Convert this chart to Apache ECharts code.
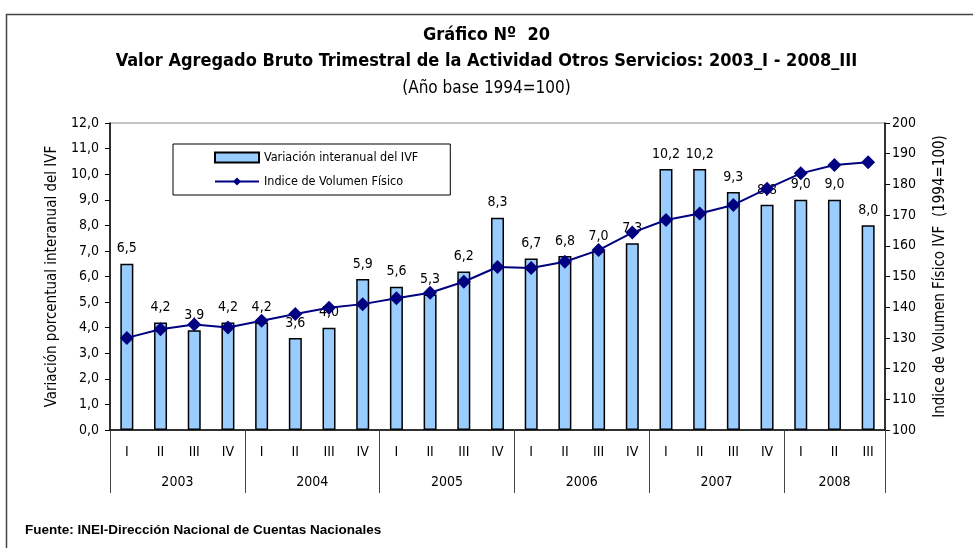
<!DOCTYPE html>
<html>
<head>
    <meta charset="utf-8">
    <title>Gráfico Nº 20</title>
    <script src="https://cdn.jsdelivr.net/npm/echarts@6/dist/echarts.min.js"></script>
    <style>
        body { margin: 0; background: #fff; }
    </style>
</head>
<body>
    <div id="main" style="width: 973px;height:548px;"></div>
    <script type="text/javascript">
        // datos
        var trimestres = ['I','II','III','IV','I','II','III','IV','I','II','III','IV',
                          'I','II','III','IV','I','II','III','IV','I','II','III'];
        var anios = ['2003', '2004', '2005', '2006', '2007', '2008'];
        var trimPorAnio = [4, 4, 4, 4, 4, 3];
        var variacion = [6.5, 4.2, 3.9, 4.2, 4.2, 3.6, 4.0, 5.9, 5.6, 5.3, 6.2, 8.3,
                         6.7, 6.8, 7.0, 7.3, 10.2, 10.2, 9.3, 8.8, 9.0, 9.0, 8.0];
        var ivf = [130.0, 132.8, 134.4, 133.4, 135.6, 137.8, 139.8, 141.0, 142.9, 144.7, 148.3, 153.1,
                   152.8, 154.8, 158.6, 164.3, 168.4, 170.5, 173.3, 178.6, 183.6, 186.3, 187.2];

        var FONT = "'Liberation Sans Narrow', 'DejaVu Sans Condensed', sans-serif";

        // eje de años: categorias en medios trimestres, para poner el texto en el centro de cada año
        var mediaCat = [];
        var cortes = {}, centros = {};
        var pos = 0;
        for (var i = 0; i <= trimestres.length * 2; i++) mediaCat.push('');
        cortes[0] = true;
        for (var a = 0; a < anios.length; a++) {
            centros[pos + trimPorAnio[a]] = true;
            mediaCat[pos + trimPorAnio[a]] = anios[a];
            pos += trimPorAnio[a] * 2;
            cortes[pos] = true;
        }

        function coma(v) { return v.toFixed(1).replace('.', ','); }

        var myChart = echarts.init(document.getElementById('main'));

        var option = {
            animation: false,
            backgroundColor: '#fff',
            textStyle: { fontFamily: FONT, color: '#000' },
            title: [
                { text: 'Gráfico Nº  20', left: 'center', top: 21,
                  textStyle: { fontSize: 18, fontWeight: 'bold', fontFamily: FONT, color: '#000' } },
                { text: 'Valor Agregado Bruto Trimestral de la Actividad Otros Servicios: 2003_I - 2008_III', left: 'center', top: 47,
                  textStyle: { fontSize: 18, fontWeight: 'bold', fontFamily: FONT, color: '#000' } },
                { text: '(Año base 1994=100)', left: 'center', top: 75,
                  textStyle: { fontSize: 17, fontWeight: 'normal', fontFamily: FONT, color: '#000' } },
                { text: 'Fuente: INEI-Dirección Nacional de Cuentas Nacionales', left: 20, top: 518,
                  textStyle: { fontSize: 13.5, fontWeight: 'bold', fontFamily: "'Liberation Sans', Arial, sans-serif", color: '#000' } }
            ],
            graphic: [
                { type: 'rect', left: 4, top: 12, shape: { width: 1000, height: 600 },
                  style: { fill: 'none', stroke: '#444', lineWidth: 1.5 }, silent: true }
            ],
            legend: {
                orient: 'vertical',
                left: 173,
                top: 144,
                padding: [7, 32, 7, 41],
                itemWidth: 44,
                itemHeight: 10,
                itemGap: 11,
                backgroundColor: '#fff',
                borderColor: '#000',
                borderWidth: 1,
                textStyle: { fontSize: 12.5, fontFamily: FONT, color: '#000' },
                data: [
                    { name: 'Variación interanual del IVF', icon: 'rect' },
                    { name: 'Indice de Volumen Físico' }
                ]
            },
            grid: {
                left: 110, right: 88, top: 123, bottom: 118,
                show: true, borderColor: '#888', borderWidth: 1
            },
            xAxis: [
                {
                    type: 'category',
                    data: trimestres,
                    position: 'bottom',
                    axisLine: { lineStyle: { color: '#000', width: 1.5 } },
                    axisTick: { length: 33, lineStyle: { color: '#444' } },
                    axisLabel: { margin: 15, fontSize: 14, color: '#000', interval: 0 },
                    splitLine: { show: false }
                },
                {
                    type: 'category',
                    data: mediaCat,
                    boundaryGap: false,
                    position: 'bottom',
                    axisLine: { show: false },
                    axisTick: { length: 63, lineStyle: { color: '#444' },
                                interval: function (idx) { return !!cortes[idx]; } },
                    axisLabel: { margin: 45, fontSize: 14, color: '#000',
                                 interval: function (idx) { return !!centros[idx]; } },
                    splitLine: { show: false }
                }
            ],
            yAxis: [
                {
                    type: 'value',
                    min: 0, max: 12, interval: 1,
                    name: 'Variación porcentual interanual del IVF',
                    nameLocation: 'middle',
                    nameGap: 42,
                    nameTextStyle: { fontSize: 15, color: '#000' },
                    axisLine: { show: true, lineStyle: { color: '#000', width: 1.5 } },
                    axisTick: { show: true, length: 5, lineStyle: { color: '#000' } },
                    axisLabel: { fontSize: 14, color: '#000', margin: 11, formatter: coma },
                    splitLine: { show: false }
                },
                {
                    type: 'value',
                    min: 100, max: 200, interval: 10,
                    name: 'Indice de Volumen Físico IVF  (1994=100)',
                    nameLocation: 'middle',
                    nameGap: 48,
                    nameTextStyle: { fontSize: 15, color: '#000' },
                    axisLine: { show: true, lineStyle: { color: '#000', width: 1.5 } },
                    axisTick: { show: true, length: 5, lineStyle: { color: '#000' } },
                    axisLabel: { fontSize: 14, color: '#000', margin: 7 },
                    splitLine: { show: false }
                }
            ],
            series: [
                {
                    name: 'Variación interanual del IVF',
                    type: 'bar',
                    xAxisIndex: 0,
                    yAxisIndex: 0,
                    data: variacion,
                    barWidth: 13,
                    itemStyle: { color: '#99CCFF', borderColor: '#000', borderWidth: 1.5 },
                    label: { show: true, position: 'top', distance: 8, fontSize: 14, color: '#000',
                             formatter: function (p) { return coma(p.value); } }
                },
                {
                    name: 'Indice de Volumen Físico',
                    type: 'line',
                    xAxisIndex: 0,
                    yAxisIndex: 1,
                    data: ivf,
                    symbol: 'diamond',
                    symbolSize: 14,
                    itemStyle: { color: '#000080' },
                    lineStyle: { color: '#000080', width: 2 }
                }
            ]
        };
        myChart.setOption(option);
    </script>
</body>
</html>
